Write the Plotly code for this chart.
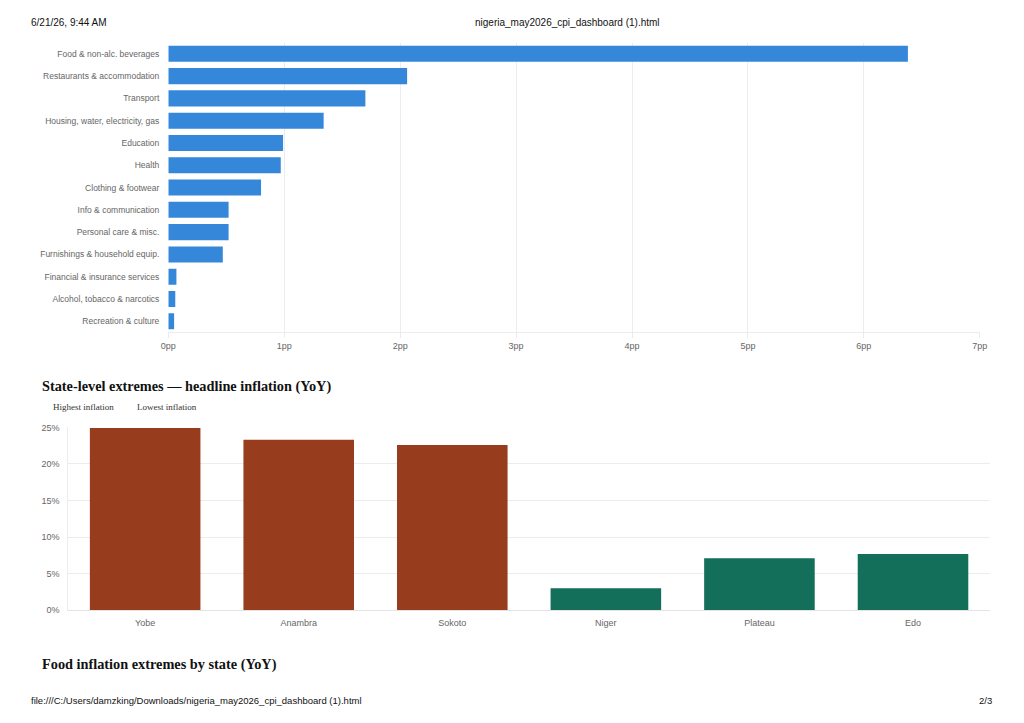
import plotly.graph_objects as go

# ---- Data ----
categories = [
    "Food & non-alc. beverages",
    "Restaurants & accommodation",
    "Transport",
    "Housing, water, electricity, gas",
    "Education",
    "Health",
    "Clothing & footwear",
    "Info & communication",
    "Personal care & misc.",
    "Furnishings & household equip.",
    "Financial & insurance services",
    "Alcohol, tobacco & narcotics",
    "Recreation & culture",
]
contributions_pp = [6.38, 2.06, 1.70, 1.34, 0.99, 0.97, 0.80, 0.52, 0.52, 0.47, 0.07, 0.06, 0.05]

high_states = ["Yobe", "Anambra", "Sokoto"]
high_values = [24.9, 23.3, 22.6]
low_states = ["Niger", "Plateau", "Edo"]
low_values = [3.0, 7.1, 7.7]

x_ticks_pp = [0, 1, 2, 3, 4, 5, 6, 7]
y_ticks_pct = [0, 5, 10, 15, 20, 25]

# ---- Styles ----
BLUE = "#3587DA"
RUST = "#983C1E"
GREEN = "#136F59"
TICK = "#666666"
GRID = "#ececec"
SANS = "Liberation Sans, Arial, sans-serif"
SERIF = "Liberation Serif, Times New Roman, serif"

W, H = 1024, 723
# mapping from screenshot pixels to figure pixels
OX, SX = 15.6, 0.985
OY, SY = 12.3, 0.987


def px_x(x):
    return (x - OX) / SX / W


def px_y(y):
    return 1 - (y - OY) / SY / H


fig = go.Figure()

fig.add_trace(go.Bar(
    x=contributions_pp, y=categories, orientation="h",
    marker=dict(color=BLUE, line=dict(width=0)),
    xaxis="x", yaxis="y", showlegend=False,
    name="Contribution",
))

fig.add_trace(go.Bar(
    x=high_states, y=high_values,
    marker=dict(color=RUST, line=dict(width=0)),
    xaxis="x2", yaxis="y2", name="Highest inflation", showlegend=False,
))
fig.add_trace(go.Bar(
    x=low_states, y=low_values,
    marker=dict(color=GREEN, line=dict(width=0)),
    xaxis="x2", yaxis="y2", name="Lowest inflation", showlegend=False,
))

fig.update_layout(
    width=W, height=H,
    margin=dict(l=0, r=0, t=0, b=0),
    paper_bgcolor="white", plot_bgcolor="white",
    barmode="overlay", bargap=0.28,
    font=dict(family=SANS, size=9, color=TICK),
    xaxis=dict(
        domain=[px_x(168), px_x(980)], anchor="y",
        range=[0, 7], tickvals=x_ticks_pp,
        ticktext=[f"{v}pp" for v in x_ticks_pp],
        showgrid=True, gridcolor=GRID, gridwidth=1,
        zeroline=False, showline=True, linecolor=GRID, linewidth=1,
        ticks="outside", ticklen=5, tickcolor=GRID,
        tickfont=dict(family=SANS, size=9, color=TICK),
    ),
    yaxis=dict(
        domain=[px_y(332), px_y(42)], anchor="x",
        autorange="reversed", showgrid=False, zeroline=False,
        ticks="", ticklabelstandoff=8,
        tickfont=dict(family=SANS, size=8.5, color=TICK),
    ),
    xaxis2=dict(
        domain=[px_x(68), px_x(990)], anchor="y2",
        categoryorder="array", categoryarray=high_states + low_states,
        showgrid=False, zeroline=False,
        showline=True, linecolor="#e4e4e4", linewidth=1,
        ticks="", ticklabelstandoff=4,
        tickfont=dict(family=SANS, size=9, color=TICK),
    ),
    yaxis2=dict(
        domain=[px_y(610), px_y(427)], anchor="x2",
        range=[0, 25], tickvals=y_ticks_pct,
        ticktext=[f"{v}%" for v in y_ticks_pct],
        showgrid=True, gridcolor=GRID, gridwidth=1,
        showline=True, linecolor=GRID, linewidth=1,
        zeroline=False, ticks="", ticklabelstandoff=6,
        tickfont=dict(family=SANS, size=9, color=TICK),
    ),
)

annotations = [
    dict(text="6/21/26, 9:44 AM", x=px_x(29), y=px_y(22), xanchor="left",
         font=dict(family=SANS, size=10, color="#111")),
    dict(text="nigeria_may2026_cpi_dashboard (1).html", x=px_x(567), y=px_y(22),
         xanchor="center", font=dict(family=SANS, size=10, color="#111")),
    dict(text="<b>State-level extremes — headline inflation (YoY)</b>", x=px_x(40), y=px_y(386),
         xanchor="left", font=dict(family=SERIF, size=14.3, color="#111")),
    dict(text="Highest inflation", x=px_x(51), y=px_y(407), xanchor="left",
         font=dict(family=SERIF, size=9, color="#333")),
    dict(text="Lowest inflation", x=px_x(135), y=px_y(407), xanchor="left",
         font=dict(family=SERIF, size=9, color="#333")),
    dict(text="<b>Food inflation extremes by state (YoY)</b>", x=px_x(40), y=px_y(664),
         xanchor="left", font=dict(family=SERIF, size=14.3, color="#111")),
    dict(text="file:///C:/Users/damzking/Downloads/nigeria_may2026_cpi_dashboard (1).html",
         x=px_x(29), y=px_y(700), xanchor="left",
         font=dict(family=SANS, size=9.5, color="#111")),
    dict(text="2/3", x=px_x(994), y=px_y(700), xanchor="right",
         font=dict(family=SANS, size=9.5, color="#111")),
]
for a in annotations:
    a.update(xref="paper", yref="paper", yanchor="middle", showarrow=False)
fig.update_layout(annotations=annotations)

fig.write_html("out.html")
